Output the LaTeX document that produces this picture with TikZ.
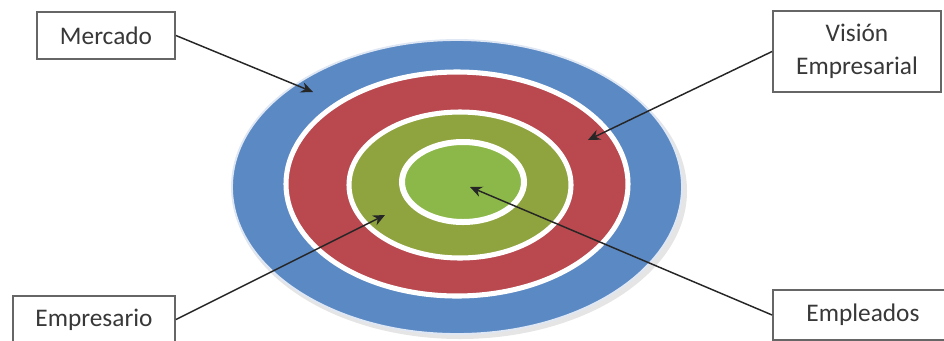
\documentclass[tikz,border=0pt]{standalone}
\usepackage{fontspec}
\setmainfont{Carlito}
\usetikzlibrary{arrows.meta,positioning}
\definecolor{ringblue}{RGB}{90,137,196}
\definecolor{ringred}{RGB}{185,72,79}
\definecolor{ringolive}{RGB}{143,164,62}
\definecolor{ringgreen}{RGB}{140,184,73}

\begin{document}
\begin{tikzpicture}[x=0.75pt,y=-0.75pt,
 >={Stealth[length=9pt,width=8pt]},
 lb/.style={draw=black!60,line width=1.4pt,fill=white,text=black!78,inner sep=0pt,
   font=\fontsize{19}{25}\selectfont,align=center},
 ar/.style={->,line width=1.1pt,draw=black!85},
 ring/.style={draw=white,line width=3.8pt}]
\useasboundingbox (0,0) rectangle (944,340);
% target rings
\fill[black!10] (460,191) ellipse [x radius=227, y radius=148];
\filldraw[fill=ringblue,draw=ringblue!20!white,line width=1.4pt] (457,187) ellipse [x radius=225, y radius=147];
\filldraw[ring,fill=ringred] (457,184) ellipse [x radius=171, y radius=112];
\filldraw[ring,fill=ringolive] (460,185) ellipse [x radius=111, y radius=73];
\filldraw[ring,line width=4.5pt,fill=ringgreen] (463,182) ellipse [x radius=61, y radius=40];
% tips
\coordinate (tmerc) at (313,92);
\coordinate (tvis) at (588,140);
\coordinate (tempr) at (385,215);
\coordinate (templ) at (470,187);
% labels
\node[lb,minimum width=103.5pt,minimum height=35.25pt] (merc) at (106,35.5) {Mercado};
\node[lb,minimum width=126pt,minimum height=60.75pt] (vis) at (857,51.5) {Visión\\Empresarial};
\node[lb,minimum width=121.5pt,minimum height=35.25pt] (empr) at (94,319.5) {Empresario};
\node[lb,minimum width=135pt,minimum height=37.5pt] (empl) at (863,315) {Empleados};
\draw[ar] (merc.east) -- (tmerc);
\draw[ar] (vis.west) -- (tvis);
\draw[ar] (empr.east) -- (tempr);
\draw[ar] (empl.west) -- (templ);
\end{tikzpicture}
\end{document}
